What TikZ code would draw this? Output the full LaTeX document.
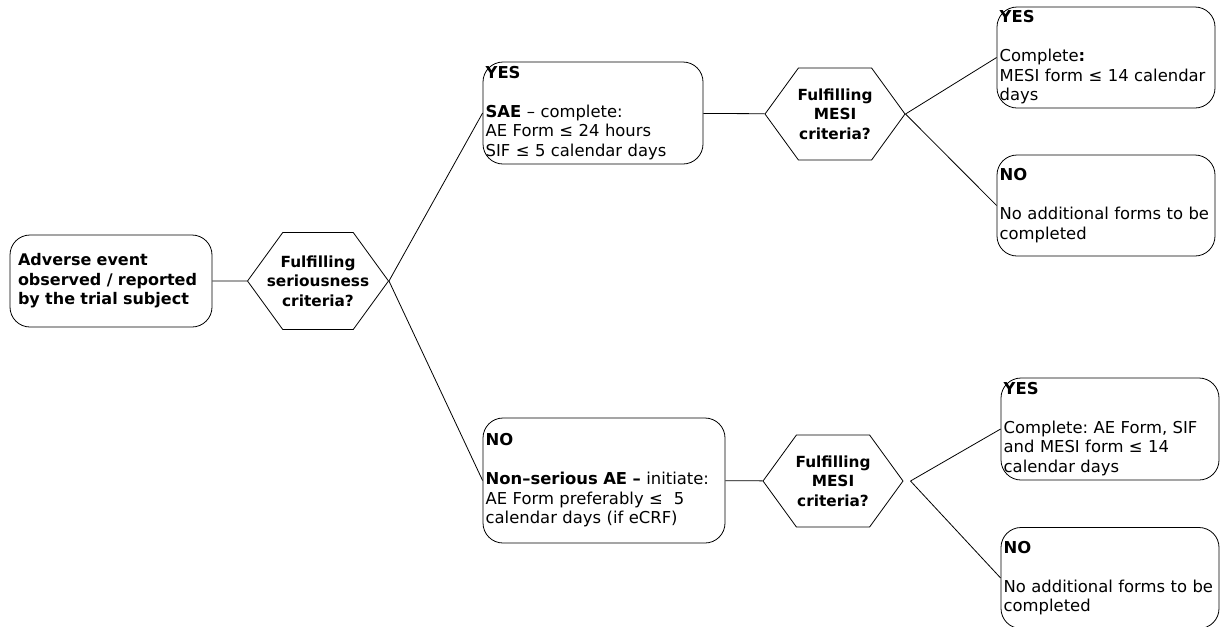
\documentclass[tikz,border=0pt]{standalone}
\usepackage{fontspec}
\setmainfont{DejaVu Sans}
\usetikzlibrary{shapes.symbols, positioning}
\tikzset{
    flowchart/.style={x=0.75pt, y=-0.75pt, line width=0.6pt, font=\fontsize{12.3}{14.6}\selectfont\frenchspacing},
    box/.style={draw, rounded corners=15pt, align=left, inner xsep=2pt, inner ysep=2pt,
        text width=159.5pt, minimum height=75.75pt},
    decision/.style={draw, signal, signal to=east and west, signal pointer angle=108,
        align=center, font=\fontsize{11.5}{14.6}\selectfont\bfseries,
        minimum width=105pt, minimum height=69pt, inner xsep=-12pt, inner ysep=0pt},
}
\newcommand{\skipline}{\\[14.6pt]}

\begin{document}
\begin{tikzpicture}[flowchart]
        \useasboundingbox (0,0) rectangle (1220,626);

        \node[box, text width=139.5pt, minimum height=69pt, inner xsep=6pt, font=\fontsize{12}{14.6}\selectfont\bfseries] (start) at (111,281)
            {Adverse event\\observed / reported\\by the trial subject};
        \node[decision, minimum height=72.75pt] (hex1) at (318,281) {Fulfilling\\seriousness\\criteria?};

        % serious branch
        \node[box, text width=161pt, minimum height=76.5pt] (yes1) at (593,113)
            {\textbf{YES}\skipline\textbf{SAE} – complete:\\AE Form ≤ 24 hours\\SIF ≤ 5 calendar days};
        \node[decision] (hex2) at (835,114) {Fulfilling\\MESI\\criteria?};
        \node[box] (yes2) at (1106,57.5)
            {\textbf{YES}\skipline Complete\textbf{:}\\MESI form ≤ 14 calendar\\days};
        \node[box] (no2) at (1106,205.5)
            {\textbf{NO}\skipline No additional forms to be\\completed};

        % non-serious branch
        \node[box, text width=177.5pt, minimum height=93.75pt] (no1) at (604,480.5)
            {\textbf{NO}\skipline\textbf{Non–serious AE –} initiate:\\AE Form preferably ≤\ \ 5\\calendar days (if eCRF)};
        \node[decision] (hex3) at (833,481) {Fulfilling\\MESI\\criteria?};
        \coordinate[right=5.25pt of hex3.east] (fork3);
        \node[box, minimum height=76.5pt] (yes3) at (1110,429)
            {\textbf{YES}\skipline Complete: AE Form, SIF\\and MESI form ≤ 14\\calendar days};
        \node[box] (no3) at (1110,578)
            {\textbf{NO}\skipline No additional forms to be\\completed};

        \draw (start) -- (hex1);
        \draw (hex1.east) -- (yes1.west);
        \draw (hex1.east) -- (no1.west);
        \draw (yes1) -- (hex2);
        \draw (hex2.east) -- (yes2.west);
        \draw (hex2.east) -- (no2.west);
        \draw (no1) -- (hex3);
        \draw (fork3) -- (yes3.west);
        \draw (fork3) -- (no3.west);
    \end{tikzpicture}
\end{document}
